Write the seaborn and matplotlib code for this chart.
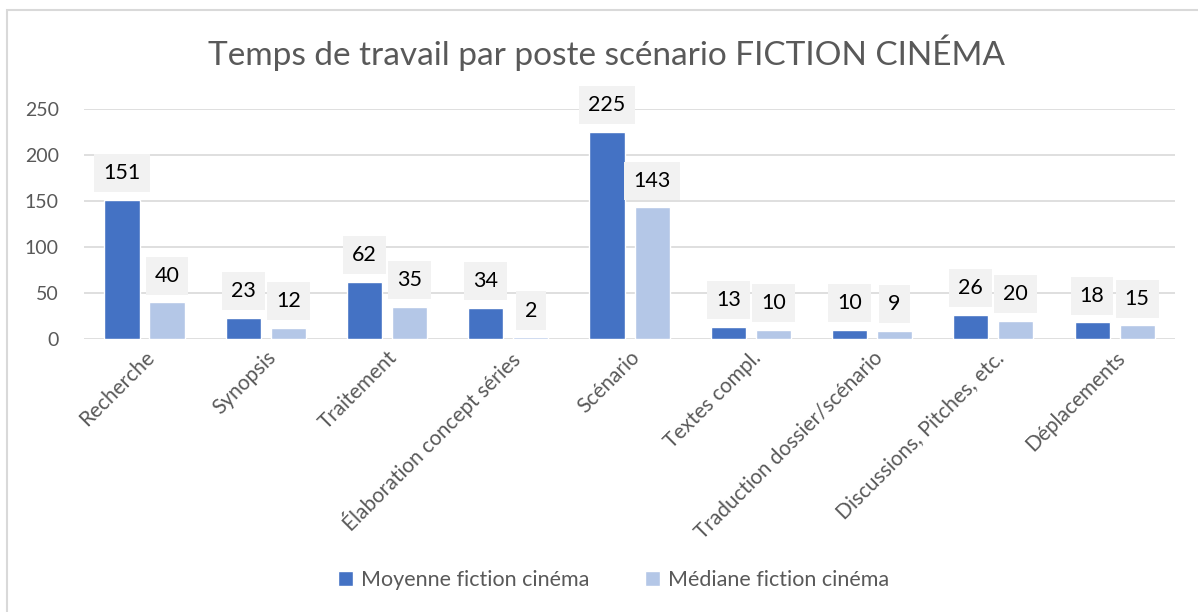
import pandas as pd
import matplotlib.pyplot as plt
import seaborn as sns
from matplotlib.patches import Rectangle

# Données
postes = ["Recherche", "Synopsis", "Traitement", "Élaboration concept séries", "Scénario",
          "Textes compl.", "Traduction dossier/scénario", "Discussions, Pitches, etc.", "Déplacements"]
moyenne = [151, 23, 62, 34, 225, 13, 10, 26, 18]
mediane = [40, 12, 35, 2, 143, 10, 9, 20, 15]
series = ["Moyenne fiction cinéma", "Médiane fiction cinéma"]

df = pd.DataFrame({
    "Poste": postes * 2,
    "Valeur": moyenne + mediane,
    "Serie": [series[0]] * len(postes) + [series[1]] * len(postes),
})

sns.set_theme(style="white")
plt.rcParams["font.family"] = ["Lato", "DejaVu Sans"]

gris = "#595959"

fig = plt.figure(figsize=(11.98, 6.12), dpi=100)
ax = fig.add_axes([0.070, 0.446, 0.911, 0.376])

sns.barplot(data=df, x="Poste", y="Valeur", hue="Serie", order=postes,
            palette=["#4472C4", "#B4C7E7"], width=0.743, gap=0.22,
            saturation=1, ax=ax, zorder=3)

for cont in ax.containers:
    ax.bar_label(cont, padding=12, fontsize=15.5, color="black",
                 bbox=dict(boxstyle="square,pad=0.42", fc="#F2F2F2", ec="none"))

ax.set_ylim(0, 250)
ax.set_yticks(range(0, 251, 50))
ax.yaxis.grid(True, color="#D9D9D9", linewidth=1.2, zorder=0)
ax.set_axisbelow(True)
sns.despine(ax=ax, left=True, bottom=True)
ax.set_xlabel("")
ax.set_ylabel("")
ax.tick_params(axis="both", length=0, colors=gris, labelsize=14)
ax.tick_params(axis="y", pad=18)
ax.tick_params(axis="x", labelsize=15, pad=6)
plt.setp(ax.get_xticklabels(), rotation=45, ha="right", rotation_mode="anchor")

ax.legend(loc="center", bbox_to_anchor=(0.512, 0.052), bbox_transform=fig.transFigure,
          ncol=2, frameon=False, fontsize=15.5, labelcolor=gris,
          handlelength=0.7, handleheight=0.7, handletextpad=0.35, columnspacing=2.6)

fig.text(0.506, 0.913, "Temps de travail par poste scénario FICTION CINÉMA",
         ha="center", va="center", fontsize=24, color=gris)

# cadre du graphique
fig.patches.append(Rectangle((7 / 1198, -0.2), 1.2, 1.2 - 10 / 612, transform=fig.transFigure,
                             fill=False, ec="#D9D9D9", lw=1.5))

plt.savefig("out.png", dpi=100)
